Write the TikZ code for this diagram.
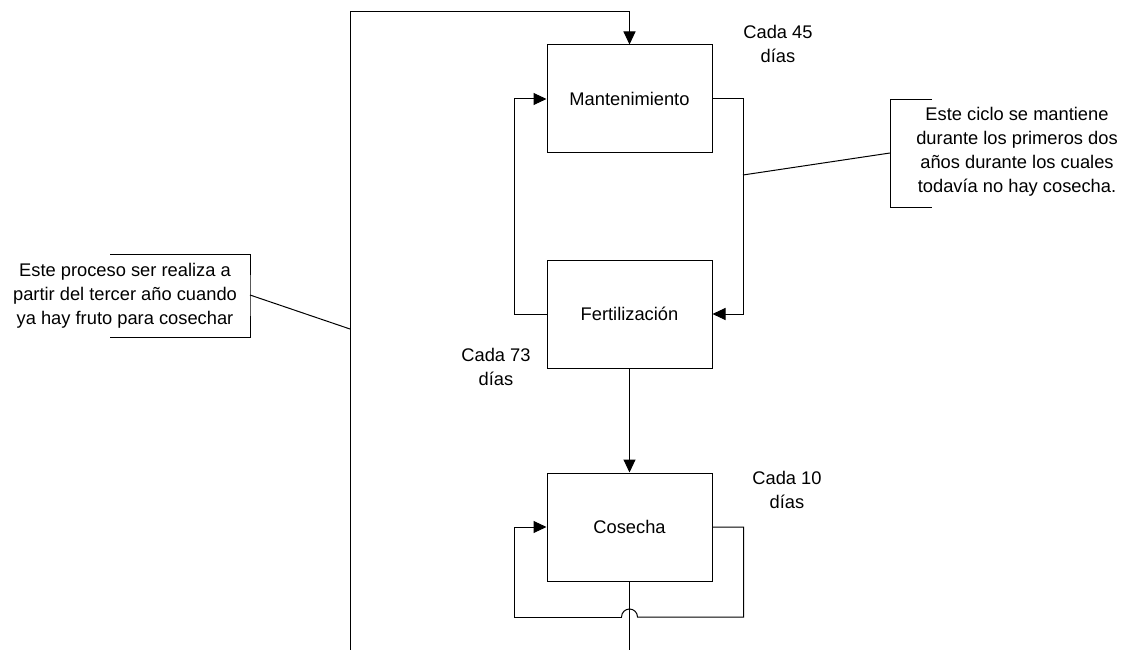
\documentclass[tikz,border=0pt]{standalone}
\usepackage{fontspec}
\setmainfont{Liberation Sans}
\usetikzlibrary{arrows.meta,calc}
\begin{document}
\begin{tikzpicture}[x=1pt,y=-1pt,
  every node/.style={font=\fontsize{18.3}{24}\selectfont},
  proc/.style={draw,line width=1pt,minimum width=165pt,minimum height=108pt,inner sep=0pt},
  conn/.style={line width=1pt},
  arr/.style={conn,-{Triangle[length=13pt,width=12pt]}},
  note/.style={align=center,inner sep=0pt},
  lbl/.style={align=center,inner sep=0pt}]
\useasboundingbox (0,0) rectangle (1122,650);
\node[proc] (M) at (629.5,99) {Mantenimiento};
\node[proc] (F) at (629.5,314) {Fertilización};
\node[proc] (C) at (629.5,527) {Cosecha};
\coordinate (bot) at (350,650);
\coordinate (topc) at (629.5,12);
\coordinate (bot2) at (629.5,650);
% top return line
\draw[arr] (bot) |- (topc) -- (M.north);
% maintenance loop
\draw[arr] (F.west) -- ++(-32,0) |- (M.west);
\draw[arr] (M.east) -- ++(31,0) |- (F.east);
\draw[arr] (F.south) -- (C.north);
% harvest loop with jump
\coordinate (jr) at (637.5,617);
\coordinate (jl) at (621.5,617);
\coordinate (cl) at ($(C.west)+(-32,0)$);
\draw[conn] (C.east) -- ++(31,0) |- (jr) arc[start angle=0,end angle=180,radius=8pt] -- (jl);
\draw[arr] (jl) -| (cl) -- (C.west);
\draw[conn] (C.south) -- (bot2);
% right annotation
\coordinate (rb1) at (932,100);
\coordinate (rb2) at (932,207);
\coordinate (rbm) at (890,153);
\coordinate (rlink) at (743,175);
\draw[conn] (rb1) -| (rbm) |- (rb2);
\draw[conn] (rbm) -- (rlink);
\node[note] (rt) at (1017,152) {Este ciclo se mantiene\\durante los primeros dos\\años durante los cuales\\todavía no hay cosecha.};
% left annotation
\coordinate (lb1) at (110,254);
\coordinate (lb2) at (110,337);
\coordinate (lbm) at (250,295);
\coordinate (llink) at (350,329);
\draw[conn] (lb1) -| (lbm) |- (lb2);
\draw[conn] (lbm) -- (llink);
\node[note] (lt) at (125,296) {Este proceso ser realiza a\\partir del tercer año cuando\\ya hay fruto para cosechar};
% frequency labels
\node[lbl] (l45) at (778,44) {Cada 45\\días};
\node[lbl] (l73) at (496,367) {Cada 73\\días};
\node[lbl] (l10) at (787,490) {Cada 10\\días};
\end{tikzpicture}
\end{document}
